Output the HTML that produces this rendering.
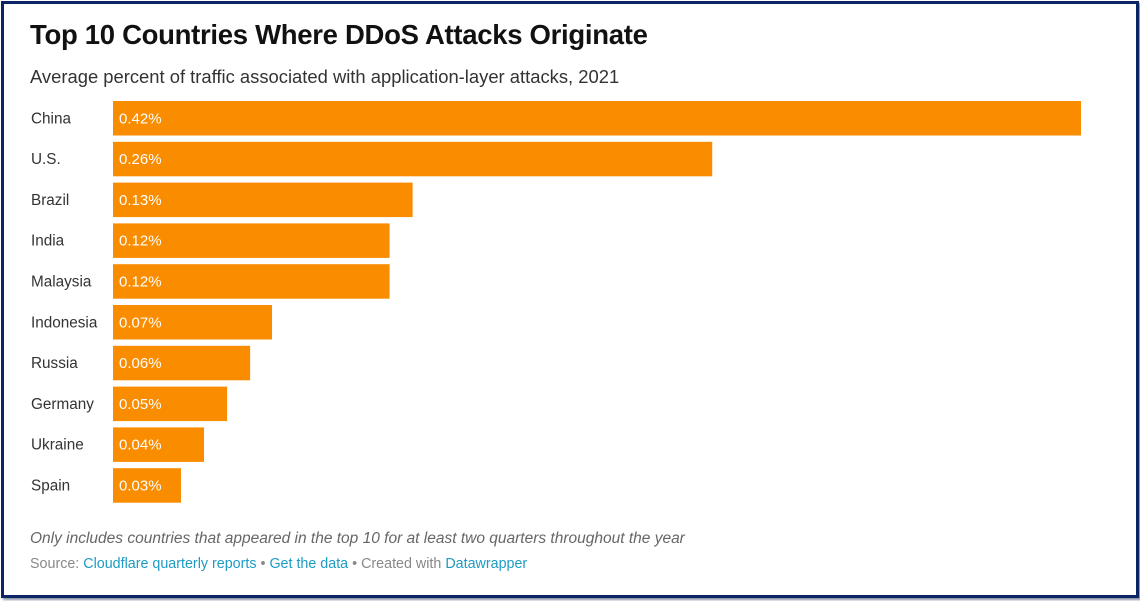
<!DOCTYPE html>
<html><head><meta charset="utf-8"><style>
html,body{margin:0;padding:0;background:#fff;}
body{width:1140px;height:601px;position:relative;overflow:hidden;font-family:"Liberation Sans",sans-serif;}
#frame{position:absolute;left:1px;top:1px;width:1132px;height:591px;border:3px solid #0b2463;box-shadow:2px 2px 2px #8a93a8;}
.t{position:absolute;white-space:nowrap;}
#title{left:30px;top:19px;font-size:27.5px;font-weight:bold;color:#111;letter-spacing:-0.3px;}
#sub{left:30px;top:66px;font-size:18.4px;color:#333;}
#note{left:30px;top:530px;font-size:15.5px;font-style:italic;color:#666;}
#src{left:30px;top:556px;font-size:14.3px;color:#888;}
#src a{color:#1d9bc4;text-decoration:none;}
</style></head><body>
<div id="frame"></div>
<div class="t" id="title">Top 10 Countries Where DDoS Attacks Originate</div>
<div class="t" id="sub">Average percent of traffic associated with application-layer attacks, 2021</div>
<svg id="chart" width="1140" height="601" style="position:absolute;left:0;top:0"></svg>
<div class="t" id="note">Only includes countries that appeared in the top 10 for at least two quarters throughout the year</div>
<div class="t" id="src">Source: <a>Cloudflare quarterly reports</a> • <a>Get the data</a> • Created with <a>Datawrapper</a></div>
<script>
const categories=["China","U.S.","Brazil","India","Malaysia","Indonesia","Russia","Germany","Ukraine","Spain"];
const values=[0.42,0.26,0.13,0.12,0.12,0.069,0.0595,0.0495,0.0395,0.0295];
const valueLabels=["0.42%","0.26%","0.13%","0.12%","0.12%","0.07%","0.06%","0.05%","0.04%","0.03%"];
const NS="http://www.w3.org/2000/svg";
const svg=document.getElementById('chart');
const x0=113, pxPerUnit=968/0.42;
function xs(v){return v*pxPerUnit;}
function ys(i){return 101+i*40.8;}
const bh=34.5;
categories.forEach((c,i)=>{
  const y=ys(i);
  const lab=document.createElementNS(NS,'text');
  
  
  lab.setAttribute('x',31);lab.setAttribute('y',y+bh/2+5);
  lab.setAttribute('font-size','15.3');lab.setAttribute('fill','#333');
  lab.setAttribute('font-family','Liberation Sans, sans-serif');
  lab.textContent=c;svg.appendChild(lab);
  const r=document.createElementNS(NS,'rect');
  
  
  r.setAttribute('x',x0);r.setAttribute('y',y);r.setAttribute('width',xs(values[i]));r.setAttribute('height',bh);
  r.setAttribute('fill','#fa8c00');svg.appendChild(r);
  const v=document.createElementNS(NS,'text');
  
  
  v.setAttribute('x',x0+6);v.setAttribute('y',y+bh/2+5);
  v.setAttribute('font-size','15');v.setAttribute('fill','#fff');
  v.setAttribute('font-family','Liberation Sans, sans-serif');
  v.textContent=valueLabels[i];svg.appendChild(v);
});
</script>
</body></html>
